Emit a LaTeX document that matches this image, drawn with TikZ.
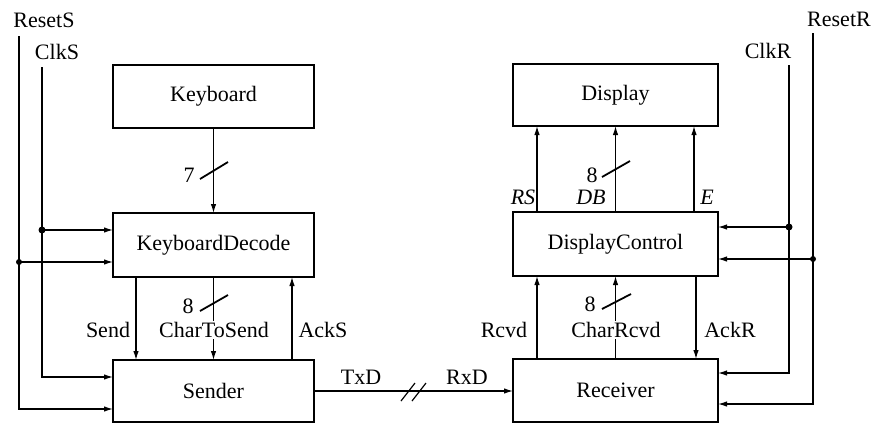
\documentclass[tikz,border=0pt]{standalone}
\usepackage{fontspec}
\setmainfont{Liberation Serif}
\usetikzlibrary{arrows.meta}
\begin{document}
\begin{tikzpicture}[x=1pt,y=-1pt,
  every node/.style={font=\fontsize{22}{26}\selectfont},
  box/.style={draw, line width=1.3pt, minimum width=201pt, inner sep=0pt, outer sep=0pt},
  ln/.style={line width=1.2pt},
  slash/.style={line width=1.8pt},
  arr/.style={ln, -{Latex[length=9pt,width=5.5pt]}},
  dot/.style={circle, fill, inner sep=0pt, minimum size=7pt},
  lbl/.style={inner sep=1pt},
  wlbl/.style={inner sep=1pt, fill=white}]
\useasboundingbox (0,0) rectangle (885,424);

% boxes
\node[box, minimum height=63pt] (kb) at (213.5,96.5) {Keyboard};
\node[box, minimum height=64pt] (kd) at (213.5,245) {KeyboardDecode};
\node[box, minimum height=62pt] (snd) at (213.5,391) {Sender};
\node[box, minimum width=205pt, minimum height=62pt] (dsp) at (615.5,95) {Display};
\node[box, minimum width=205pt, minimum height=64pt] (dc) at (615.5,244) {DisplayControl};
\node[box, minimum width=205pt, minimum height=63pt] (rcv) at (615.5,390.5) {Receiver};

% helper coordinates
\coordinate (xSend) at (136,0);
\coordinate (xAckS) at (292,0);
\coordinate (xRS) at (537,0);
\coordinate (xE) at (694,0);
\coordinate (xAckR) at (696,0);
\coordinate (yClkS) at (0,377);
\coordinate (yRstS) at (0,409);
\coordinate (yClkR) at (0,373);
\coordinate (yRstR) at (0,404);

% left clock/reset
\node[lbl] (rsl) at (44,20) {ResetS};
\node[lbl] (csl) at (57,52) {ClkS};
\coordinate (rsT) at (19,36);
\coordinate (rsJ) at (19,262);
\coordinate (csT) at (42,67);
\coordinate (csJ) at (42,230);
\draw[arr] (rsT) |- (snd.west |- yRstS);
\draw[arr] (csT) |- (snd.west |- yClkS);
\draw[arr] (csJ) -- (kd.west |- csJ);
\draw[arr] (rsJ) -- (kd.west |- rsJ);
\node[dot] (csd) at (csJ) {};
\node[dot, minimum size=6pt] (rsd) at (rsJ) {};

% right clock/reset
\node[lbl] (rrl) at (839,19) {ResetR};
\node[lbl] (crl) at (768,51) {ClkR};
\coordinate (rrT) at (813,33);
\coordinate (rrJ) at (813,259);
\coordinate (crT) at (789,65);
\coordinate (crJ) at (789,227);
\draw[arr] (rrT) |- (rcv.east |- yRstR);
\draw[arr] (crT) |- (rcv.east |- yClkR);
\draw[arr] (crJ) -- (dc.east |- crJ);
\draw[arr] (rrJ) -- (dc.east |- rrJ);
\node[dot] (crd) at (crJ) {};
\node[dot, minimum size=6pt] (rrd) at (rrJ) {};

% sender side
\draw[arr] (kb) -- (kd);
\draw[slash] (200,179) -- (228,162);
\node[lbl] (n7) at (189,175) {7};

\draw[arr] (kd.south -| xSend) -- (snd.north -| xSend);
\node[lbl] (sendl) at (108,330) {Send};
\draw[arr] (kd) -- (snd);
\node[wlbl] (ctsl) at (214,330) {CharToSend};
\draw[slash] (200,311) -- (228,295);
\node[lbl] (n8a) at (188,306) {8};
\draw[arr] (snd.north -| xAckS) -- (kd.south -| xAckS);
\node[lbl] (acksl) at (323,330) {AckS};

% serial link
\draw[arr] (snd.east) -- (rcv.west |- snd.east);
\node[lbl] (txdl) at (361,377) {TxD};
\node[lbl] (rxdl) at (467,377) {RxD};
\draw[ln] (401,401) -- (415,383);
\draw[ln] (412,401) -- (426,383);

% receiver side
\draw[arr] (dc.north -| xRS) -- (dsp.south -| xRS);
\draw[arr] (dc) -- (dsp);
\draw[arr] (dc.north -| xE) -- (dsp.south -| xE);
\node[lbl] (rsl2) at (523,197) {\textit{RS}};
\node[lbl] (dbl) at (591,197) {\textit{DB}};
\node[lbl] (el) at (707,197) {\textit{E}};
\draw[slash] (602,177) -- (630,161);
\node[lbl] (n8b) at (592,175) {8};

\draw[arr] (rcv.north -| xRS) -- (dc.south -| xRS);
\node[lbl] (rcvdl) at (504,330) {Rcvd};
\draw[arr] (rcv) -- (dc);
\node[wlbl] (crl2) at (616,330) {CharRcvd};
\draw[slash] (602,309) -- (631,294);
\node[lbl] (n8c) at (590,304) {8};
\draw[arr] (dc.south -| xAckR) -- (rcv.north -| xAckR);
\node[lbl] (ackrl) at (730,330) {AckR};
\end{tikzpicture}
\end{document}
